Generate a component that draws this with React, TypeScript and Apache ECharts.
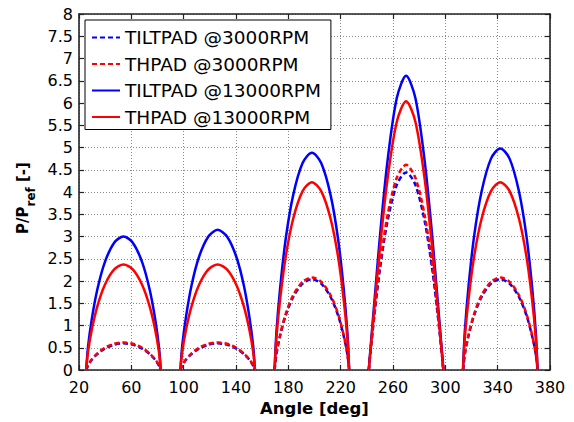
import React, { useEffect, useRef } from 'react';
import * as echarts from 'echarts';

// Angles (deg) sampled across each of the five pads
const lobeAngles: number[][] = [
  [25.5, 26.9, 29.8, 34.0, 39.7, 46.9, 54, 61.1, 68.3, 74.0, 78.2, 81.1, 82.5],
  [97.5, 98.9, 101.8, 106.0, 111.7, 118.9, 126, 133.1, 140.3, 146.0, 150.2, 153.1, 154.5],
  [169.5, 170.9, 173.8, 178.0, 183.7, 190.9, 198, 205.1, 212.3, 218.0, 222.2, 225.1, 226.5],
  [241.5, 242.9, 245.8, 250.0, 255.7, 262.9, 270, 277.1, 284.3, 290.0, 294.2, 297.1, 298.5],
  [313.5, 314.9, 317.8, 322.0, 327.7, 334.9, 342, 349.1, 356.3, 362.0, 366.2, 369.1, 370.5],
];

const tiltpad3000: number[][] = [
  [0, 0.10, 0.23, 0.36, 0.48, 0.57, 0.60, 0.57, 0.48, 0.36, 0.23, 0.10, 0],
  [0, 0.10, 0.23, 0.36, 0.48, 0.57, 0.60, 0.57, 0.48, 0.36, 0.23, 0.10, 0],
  [0, 0.36, 0.78, 1.23, 1.64, 1.94, 2.04, 1.94, 1.64, 1.23, 0.78, 0.36, 0],
  [0, 0.43, 1.23, 2.26, 3.33, 4.16, 4.44, 4.16, 3.33, 2.26, 1.23, 0.43, 0],
  [0, 0.36, 0.78, 1.23, 1.64, 1.94, 2.04, 1.94, 1.64, 1.23, 0.78, 0.36, 0],
];

const thpad3000: number[][] = [
  [0, 0.11, 0.24, 0.37, 0.50, 0.59, 0.62, 0.59, 0.50, 0.37, 0.24, 0.11, 0],
  [0, 0.11, 0.24, 0.37, 0.50, 0.59, 0.62, 0.59, 0.50, 0.37, 0.24, 0.11, 0],
  [0, 0.36, 0.80, 1.26, 1.68, 1.98, 2.08, 1.98, 1.68, 1.26, 0.80, 0.36, 0],
  [0, 0.45, 1.28, 2.35, 3.46, 4.32, 4.61, 4.32, 3.46, 2.35, 1.28, 0.45, 0],
  [0, 0.36, 0.80, 1.26, 1.68, 1.98, 2.08, 1.98, 1.68, 1.26, 0.80, 0.36, 0],
];

const tiltpad13000: number[][] = [
  [0, 0.52, 1.15, 1.81, 2.42, 2.86, 3.00, 2.86, 2.42, 1.81, 1.15, 0.52, 0],
  [0, 0.55, 1.20, 1.90, 2.54, 3.00, 3.15, 3.00, 2.54, 1.90, 1.20, 0.55, 0],
  [0, 0.85, 1.86, 2.95, 3.93, 4.65, 4.88, 4.65, 3.93, 2.95, 1.86, 0.85, 0],
  [0, 0.52, 1.54, 3.00, 4.67, 6.11, 6.61, 6.11, 4.67, 3.00, 1.54, 0.52, 0],
  [0, 0.87, 1.90, 3.01, 4.01, 4.75, 4.98, 4.75, 4.01, 3.01, 1.90, 0.87, 0],
];

const thpad13000: number[][] = [
  [0, 0.41, 0.91, 1.43, 1.91, 2.26, 2.37, 2.26, 1.91, 1.43, 0.91, 0.41, 0],
  [0, 0.41, 0.91, 1.43, 1.91, 2.26, 2.37, 2.26, 1.91, 1.43, 0.91, 0.41, 0],
  [0, 0.73, 1.61, 2.55, 3.40, 4.02, 4.22, 4.02, 3.40, 2.55, 1.61, 0.73, 0],
  [0, 0.47, 1.41, 2.74, 4.27, 5.58, 6.04, 5.58, 4.27, 2.74, 1.41, 0.47, 0],
  [0, 0.73, 1.61, 2.55, 3.40, 4.02, 4.22, 4.02, 3.40, 2.55, 1.61, 0.73, 0],
];

const seriesNames = ['TILTPAD @3000RPM', 'THPAD @3000RPM', 'TILTPAD @13000RPM', 'THPAD @13000RPM'];
const seriesValues = [tiltpad3000, thpad3000, tiltpad13000, thpad13000];
const seriesColors = ['#0000ff', '#ff0000', '#0000ff', '#ff0000'];
const seriesDashed = [true, true, false, false];

const xMin = 20;
const xMax = 380;
const xStep = 40;
const yMin = 0;
const yMax = 8;
const yStep = 0.5;

const FONT = "'DejaVu Sans', 'Liberation Sans', Arial, sans-serif";

export default function App() {
  const ref = useRef<HTMLDivElement>(null);
  useEffect(() => {
    const chart = echarts.init(ref.current!, null, { renderer: 'svg' });
    const series: any[] = [];
    seriesValues.forEach((lobes, si) => {
      lobes.forEach((vals, li) => {
        series.push({
          type: 'line',
          name: seriesNames[si],
          data: vals.map((v, i) => [lobeAngles[li][i], v]),
          showSymbol: false,
          symbol: 'none',
          smooth: 0.3,
          lineStyle: {
            color: seriesColors[si],
            width: 2.5,
            type: seriesDashed[si] ? [5, 3] : 'solid',
          },
          itemStyle: { color: seriesColors[si] },
          z: 2 + si,
        });
      });
    });
    const axisLine = { show: true, onZero: false, lineStyle: { color: '#222', width: 1.6 } };
    const axisTick = { show: true, inside: true, length: 5, lineStyle: { color: '#222', width: 1.2 } };
    chart.setOption({
      animation: false,
      backgroundColor: '#ffffff',
      textStyle: { fontFamily: FONT },
      grid: { left: 79, right: 24, top: 14, bottom: 50, containLabel: false },
      legend: {
        data: seriesNames,
        orient: 'vertical',
        left: 85,
        top: 20,
        backgroundColor: '#ffffff',
        borderColor: '#000000',
        borderWidth: 1,
        borderRadius: 0,
        padding: [8, 10, 3, 6],
        itemWidth: 28,
        itemHeight: 14,
        itemGap: 7.5,
        itemStyle: { opacity: 0 },
        textStyle: { fontFamily: FONT, fontSize: 18.5, color: '#000' },
      },
      xAxis: [
        {
          type: 'value',
          min: xMin,
          max: xMax,
          interval: xStep,
          position: 'bottom',
          name: 'Angle [deg]',
          nameLocation: 'middle',
          nameGap: 30,
          nameTextStyle: { fontFamily: FONT, fontSize: 16.5, fontWeight: 'bold', color: '#000' },
          axisLine,
          axisTick,
          axisLabel: { fontFamily: FONT, fontSize: 16, color: '#000', margin: 9 },
          splitLine: { show: true, lineStyle: { color: '#888', width: 1, type: [1, 2] } },
        },
        {
          type: 'value',
          min: xMin,
          max: xMax,
          interval: xStep,
          position: 'top',
          axisLine,
          axisTick,
          axisLabel: { show: false },
          splitLine: { show: false },
        },
      ],
      yAxis: [
        {
          type: 'value',
          min: yMin,
          max: yMax,
          interval: yStep,
          position: 'left',
          name: '{b|P/P}{s|ref}{b| [-]}',
          nameLocation: 'middle',
          nameGap: 38,
          nameRotate: 90,
          nameTextStyle: {
            padding: [0, 12, 0, 0],
            rich: {
              b: { fontFamily: FONT, fontSize: 15, fontWeight: 'bold', color: '#000', verticalAlign: 'top', lineHeight: 16 },
              s: { fontFamily: FONT, fontSize: 12, fontWeight: 'bold', color: '#000', verticalAlign: 'top', lineHeight: 12, padding: [9, 0, 0, 0] },
            },
          },
          axisLine,
          axisTick,
          axisLabel: { fontFamily: FONT, fontSize: 16, color: '#000', margin: 6 },
          splitLine: { show: true, lineStyle: { color: '#888', width: 1, type: [1, 2] } },
        },
        {
          type: 'value',
          min: yMin,
          max: yMax,
          interval: yStep,
          position: 'right',
          axisLine,
          axisTick,
          axisLabel: { show: false },
          splitLine: { show: false },
        },
      ],
      series,
    });
    return () => chart.dispose();
  }, []);
  return (
    <div
      ref={ref}
      style={{ position: 'fixed', left: 0, top: 0, width: 574, height: 422, background: '#fff' }}
    />
  );
}
